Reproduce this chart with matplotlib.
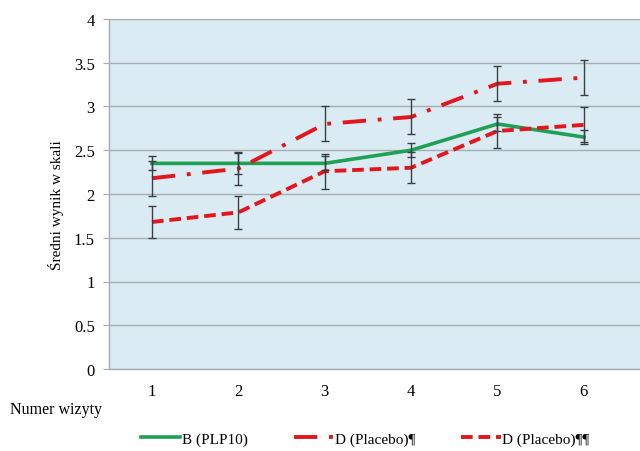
import matplotlib
matplotlib.use("Agg")
import matplotlib.pyplot as plt
from matplotlib.ticker import FuncFormatter, MultipleLocator

# dane
wizyty = [1, 2, 3, 4, 5, 6]
b_plp10 = [2.35, 2.35, 2.35, 2.50, 2.80, 2.65]
b_plp10_err = [0.08, 0.12, 0.08, 0.08, 0.08, 0.08]
d_placebo1 = [2.18, 2.29, 2.80, 2.88, 3.26, 3.33]
d_placebo1_err = [0.20, 0.19, 0.20, 0.20, 0.20, 0.20]
d_placebo2 = [1.68, 1.79, 2.26, 2.30, 2.72, 2.79]
d_placebo2_err = [0.18, 0.19, 0.20, 0.18, 0.19, 0.20]

etykiety = ["B (PLP10)", "D (Placebo)¶", "D (Placebo)¶¶"]

plt.rcParams['font.family'] = ['Liberation Serif', 'DejaVu Serif']

fig = plt.figure(figsize=(6.4, 4.52), dpi=100)
ax = fig.add_axes([0.170, 0.1814, 0.830, 0.7744])
ax.set_facecolor('#dbebf3')

err_kw = dict(fmt='none', ecolor='#3a3f44', elinewidth=1.0, capsize=3, capthick=1.0, zorder=4)

l1, = ax.plot(wizyty, b_plp10, color='#1fa055', lw=2.6, zorder=3)
l2, = ax.plot(wizyty, d_placebo1, color='#e3161c', lw=2.8, zorder=3,
              dashes=(6, 3, 1, 3))
l3, = ax.plot(wizyty, d_placebo2, color='#e3161c', lw=2.8, zorder=3,
              dashes=(3, 1.5))
ax.errorbar(wizyty, b_plp10, yerr=b_plp10_err, **err_kw)
ax.errorbar(wizyty, d_placebo1, yerr=d_placebo1_err, **err_kw)
ax.errorbar(wizyty, d_placebo2, yerr=d_placebo2_err, **err_kw)

ax.set_xlim(0.5, 6.65)
ax.set_ylim(0, 4)
ax.yaxis.set_major_locator(MultipleLocator(0.5))
ax.yaxis.set_major_formatter(FuncFormatter(lambda v, p: f"{v:g}"))
ax.set_xticks(wizyty)
ax.grid(axis='y', color='#a4abb2', lw=1.0)
ax.set_axisbelow(True)

for s in ['top', 'right']:
    ax.spines[s].set_visible(False)
for s in ['left', 'bottom']:
    ax.spines[s].set_color('#a4abb2')
    ax.spines[s].set_linewidth(1.0)

ax.tick_params(axis='y', length=4, color='#a4abb2', labelsize=12, pad=6)
ax.tick_params(axis='x', length=0, labelsize=12, pad=10)

ax.set_ylabel("Średni wynik w skali", fontsize=11)
ax.yaxis.set_label_coords(-0.084, 0.47)
fig.text(10 / 640, 1 - 410 / 452, "Numer wizyty", fontsize=11.5, va='center', ha='left')

fig.legend([l1, l2, l3], etykiety, loc='center', bbox_to_anchor=(365 / 640, 1 - 440 / 452),
           ncol=3, frameon=False, fontsize=11, handlelength=2.6, handletextpad=0.1,
           columnspacing=3.0)

fig.savefig("out.png", dpi=100)
